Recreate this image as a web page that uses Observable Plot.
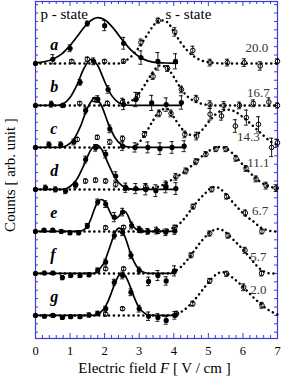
<!DOCTYPE html>
<html><head><meta charset="utf-8">
<script src="https://cdn.jsdelivr.net/npm/d3@7"></script>
<script src="https://cdn.jsdelivr.net/npm/@observablehq/plot@0.6"></script>
<style>html,body{margin:0;padding:0;background:#fff;}</style>
</head><body><div id="chart"></div>
<script>
// ---- data (F [V/cm], counts above trace baseline, error) ----
const traceLetters = ["a","b","c","d","e","f","g"];
const fieldLabels = ["20.0","16.7","14.3","11.1","6.7","5.7","2.0"];
const xTickLabels = [0,1,2,3,4,5,6,7];

const pA = [[0,0,0],[0.5,1.0,1.1],[1.0,3.6,0.8],[1.5,9.5,0.6],[2.0,9.0,1.2],[2.55,4.8,1.4],[3.05,1.4,1.6],[3.54,0.5,2.1],[4.05,0.5,1.8]];
const fitA = [[0,0.1],[0.25,0.4],[0.5,1.0],[0.75,2.2],[1.0,4.3],[1.25,6.9],[1.5,9.5],[1.8,10.9],[2.0,10.4],[2.25,8.4],[2.5,5.7],[2.75,3.3],[3.0,1.6],[3.25,0.6],[3.5,0.2],[3.75,0.1],[4.1,0]];
const sA = [[1.05,0.5,0.4],[1.5,1.0,0.5],[2.0,0.5,0.4],[2.55,0.5,0.5],[3.05,5.0,0.8],[3.55,10.2,0.6],[4.03,7.5,1.0],[4.55,3.1,1.0],[5.05,0.2,0.8],[5.55,0.2,0.8],[6.04,0.2,0.9],[6.5,-0.6,1.0],[7.0,0.5,0.6]];
const sFitA = [[0,0],[2.4,0],[2.6,0.6],[2.8,1.9],[3.0,3.9],[3.2,6.4],[3.4,8.9],[3.6,10.3],[3.8,9.9],[4.0,7.6],[4.2,5.0],[4.4,3.0],[4.6,1.6],[4.8,0.7],[5.0,0.3],[5.2,0.1],[5.4,0],[7.0,0]];

const pB = [[0,0,0],[0.46,0.3,0.7],[0.8,0,0.5],[1.29,5.5,0.7],[1.68,10.5,0.8],[2.1,3.8,0.9],[2.55,0.2,1.2],[2.9,1.4,1.7],[3.36,0.6,1.8],[3.78,0.2,1.6],[4.22,0.7,1.6]];
const fitB = [[0,0],[0.6,0],[0.8,0.4],[1.0,1.9],[1.2,4.9],[1.4,8.8],[1.62,11.0],[1.8,9.5],[2.0,5.7],[2.2,2.4],[2.4,0.7],[2.6,0.1],[2.8,0],[4.22,0]];
const sB = [[1.28,0.5,0.4],[1.71,1.4,0.5],[2.08,0.5,0.5],[2.52,0.8,0.9],[2.95,2.2,0.8],[3.4,6.9,0.7],[3.82,8.8,0.7],[4.22,3.8,0.8],[4.65,1.6,0.8],[5.05,0.2,0.9],[5.45,0,0.9],[5.9,0,0.8],[6.3,0.5,0.8],[6.75,0.8,1.0],[7.0,0,0.6]];
const sFitB = [[0,0],[2.4,0],[2.6,0.4],[2.8,1.2],[3.0,2.9],[3.2,5.4],[3.4,8.0],[3.6,9.5],[3.8,9.0],[4.0,6.8],[4.2,4.1],[4.4,2.1],[4.6,1.0],[4.8,0.4],[5.0,0.1],[5.2,0],[7.0,0]];

const pC = [[0,0,0],[0.39,0.7,0.6],[0.73,0.7,0.6],[1.11,1.3,0.7],[1.45,8.8,0.8],[1.8,11.5,0.8],[2.15,4.4,0.9],[2.52,0.3,1.0],[2.88,0,1.1],[3.25,0,1.3],[3.6,-0.3,1.4],[3.95,0,1.4],[4.3,0.3,1.3]];
const fitC = [[0,0],[0.7,0],[0.9,0.4],[1.1,1.8],[1.3,5.0],[1.5,9.3],[1.72,11.8],[1.9,10.1],[2.1,5.8],[2.3,2.3],[2.5,0.6],[2.7,0.1],[2.9,0],[4.3,0]];
const sC = [[1.21,1.9,0.5],[1.79,2.4,0.5],[2.15,1.3,0.6],[2.52,2.1,0.6],[3.15,3.1,0.7],[3.58,8.1,0.8],[3.92,8.1,0.8],[4.32,3.1,0.8],[4.66,2.7,0.9],[5.05,7.9,1.4],[5.38,7.5,1.0],[5.78,5.1,1.5],[6.1,7.1,1.8],[6.45,5.5,1.8],[6.83,0,2.2],[7.0,1.1,0.8]];
const sFitC = [[0,0],[2.8,0],[3.0,1.2],[3.2,3.6],[3.4,6.4],[3.6,8.8],[3.8,9.2],[4.0,7.2],[4.2,4.8],[4.4,3.2],[4.6,2.9],[4.8,4.0],[5.0,6.0],[5.2,7.8],[5.4,8.8],[5.6,9.0],[5.8,8.4],[6.0,7.2],[6.2,5.8],[6.4,4.3],[6.6,2.8],[6.8,1.4],[7.0,0.6]];

const pD = [[0,0,0],[0.29,0.4,0.6],[0.58,0,0.6],[0.87,-0.4,0.6],[1.16,1.0,0.7],[1.45,7.1,0.8],[1.74,9.9,0.8],[2.03,8.4,0.9],[2.32,3.2,1.0],[2.61,0.4,1.1],[2.9,0.2,1.2],[3.19,0,1.3],[3.48,-0.3,1.4],[3.77,0.6,1.4],[4.06,0.2,1.4]];
const fitD = [[0,0],[0.8,0],[1.0,0.7],[1.2,2.5],[1.4,5.8],[1.6,9.4],[1.76,10.6],[1.9,9.7],[2.1,6.2],[2.3,2.8],[2.5,0.9],[2.7,0.2],[2.9,0],[4.06,0]];
const sD = [[1.16,1.2,0.5],[1.45,2.0,0.5],[1.74,2.2,0.5],[2.03,2.0,0.5],[2.32,1.2,0.6],[2.61,0.4,0.6],[3.19,0.6,0.8],[3.77,0.8,0.8],[4.06,3.0,0.8],[4.35,4.4,0.7],[4.64,6.6,0.7],[4.93,8.4,0.6],[5.22,9.6,0.6],[5.51,9.6,0.6],[5.8,7.4,0.7],[6.09,5.0,0.7],[6.38,2.5,0.7],[6.67,0.9,0.8],[6.96,0.3,0.8]];
const sFitD = [[0,0],[2.8,0],[3.2,0.2],[3.6,0.8],[3.8,1.6],[4.0,2.6],[4.2,3.6],[4.4,4.8],[4.6,6.3],[4.8,7.8],[5.0,9.1],[5.2,9.9],[5.35,10.1],[5.5,9.8],[5.7,8.6],[5.9,6.8],[6.1,4.9],[6.3,3.2],[6.5,1.8],[6.7,0.9],[6.9,0.4],[7.0,0.3]];

const pE = [[0,0,0],[0.25,0.3,0.4],[0.5,0.3,0.4],[0.75,0,0.4],[1.0,-0.3,0.5],[1.25,-0.3,0.5],[1.5,1.3,0.6],[1.8,7.0,0.7],[2.03,6.5,0.8],[2.28,3.4,1.1],[2.52,4.6,0.9],[2.78,1.4,0.8],[3.0,0.5,0.7],[3.25,0,0.7],[3.5,0.2,0.8],[3.77,-0.2,0.8],[4.03,0.1,0.8]];
const fitE = [[0,0],[1.25,0],[1.4,0.4],[1.5,1.2],[1.6,2.9],[1.7,5.2],[1.8,7.0],[1.9,7.6],[2.0,7.1],[2.1,5.6],[2.2,3.9],[2.3,3.0],[2.4,3.5],[2.5,4.5],[2.58,4.8],[2.66,4.0],[2.75,2.3],[2.85,1.0],[3.0,0.2],[3.2,0],[4.05,0]];
const sE = [[2.03,0.9,0.4],[2.55,1.0,0.4],[3.05,0.2,0.5],[3.55,0,0.5],[4.03,0.9,0.6],[4.56,5.9,0.6],[5.1,10.0,0.6],[5.53,8.3,0.6],[6.07,4.4,0.7],[6.55,0,0.6]];
const sFitE = [[0,0],[3.4,0],[3.7,0.2],[3.9,0.6],[4.1,1.4],[4.3,3.0],[4.5,5.2],[4.7,7.3],[4.9,9.0],[5.05,10.2],[5.2,10.6],[5.35,10.1],[5.5,8.9],[5.7,7.0],[5.9,5.2],[6.1,3.6],[6.3,2.4],[6.5,1.0],[6.7,0.3],[6.9,0],[7.0,0]];

const pF = [[0,0,0],[0.26,0.1,0.4],[0.51,0.1,0.4],[0.78,-1.0,0.5],[1.02,-0.5,0.5],[1.29,-0.5,0.5],[1.55,-0.3,0.5],[1.8,0.7,0.6],[2.03,2.7,0.7],[2.28,9.0,0.8],[2.52,9.8,0.8],[2.76,4.3,0.8],[3.0,0.7,0.8],[3.27,-1.9,1.0],[3.54,-0.5,1.2],[3.78,-1.8,1.0],[4.02,0.6,1.2]];
const fitF = [[0,0],[1.7,0],[1.8,0.6],[1.9,1.5],[2.0,2.9],[2.1,5.1],[2.2,7.5],[2.3,9.7],[2.42,10.8],[2.5,10.3],[2.6,8.5],[2.7,6.0],[2.8,3.7],[2.9,2.0],[3.0,0.9],[3.1,0.4],[3.2,0.1],[3.3,0],[4.05,0]];
const sF = [[2.03,1.1,0.4],[2.55,1.1,0.4],[4.5,4.3,0.6],[5.04,9.5,0.6],[5.57,9.0,0.6],[6.06,5.5,0.7],[6.54,0,0.6]];
const sFitF = [[0,0],[3.8,0],[4.0,0.4],[4.2,1.5],[4.4,3.3],[4.6,5.5],[4.8,7.7],[5.0,9.4],[5.15,10.3],[5.3,10.6],[5.45,10.1],[5.6,9.0],[5.8,7.4],[6.0,5.7],[6.2,3.8],[6.4,1.8],[6.6,0.5],[6.8,0],[7.0,0]];

const pG = [[0,0,0],[0.26,-0.2,0.4],[0.51,0,0.4],[0.78,-0.5,0.4],[1.02,-0.3,0.4],[1.29,-0.3,0.4],[1.55,0.1,0.5],[1.8,0.5,0.5],[2.03,1.6,0.6],[2.28,7.9,0.7],[2.52,9.5,0.8],[2.76,5.5,0.8],[3.0,1.6,0.8],[3.27,-0.2,1.0],[3.54,-0.5,0.9],[3.78,-1.2,0.9],[4.03,0,0.9]];
const fitG = [[0,0],[1.8,0],[1.9,0.9],[2.0,1.8],[2.1,3.4],[2.2,5.5],[2.3,7.7],[2.4,9.4],[2.5,10.1],[2.6,9.4],[2.7,7.7],[2.8,5.5],[2.9,3.4],[3.0,1.8],[3.1,0.9],[3.2,0.3],[3.3,0.1],[3.4,0],[4.05,0]];
const sG = [[2.03,0.3,0.4],[2.52,1.6,0.4],[4.08,0.4,0.6],[4.55,2.8,0.6],[5.04,8.2,0.6],[5.53,9.9,0.6],[6.02,6.7,0.8],[6.55,2.4,0.7]];
const sFitG = [[0,0],[3.8,0],[4.1,0.4],[4.3,1.3],[4.5,2.8],[4.7,4.7],[4.9,6.8],[5.1,8.8],[5.25,9.9],[5.4,10.3],[5.55,9.9],[5.7,9.0],[5.9,7.6],[6.1,6.0],[6.3,4.3],[6.5,2.8],[6.7,1.5],[6.85,0.8],[7.0,0.2]];

// ---- layout ----
const W = 284, H = 382, mL = 35, mR = 7, mT = 1, mB = 44;
const traceStep = 10;
const yMin = -5.5, yMax = 74.75;
const ux = 7 / (W - mL - mR);               // data units per px (x)
const uy = (yMax - yMin) / (H - mT - mB);   // data units per px (y)
const off = i => (traceLetters.length - 1 - i) * traceStep;
const frameColor = "#3b3bd6";

const pSets = [pA,pB,pC,pD,pE,pF,pG];
const fitSets = [fitA,fitB,fitC,fitD,fitE,fitF,fitG];
const sSets = [sA,sB,sC,sD,sE,sF,sG];
const sFitSets = [sFitA,sFitB,sFitC,sFitD,sFitE,sFitF,sFitG];

const toPts = sets => sets.flatMap((arr, i) => arr.map(([F, v, e]) => ({F, y: v + off(i), e: e || 0, t: i})));
const pRows = toPts(pSets), sRows = toPts(sSets);
const fitRows = toPts(fitSets), sFitRows = toPts(sFitSets);
const errRows = [...pRows, ...sRows].filter(d => d.e > 0);
const capW = 2 * ux;

const xTickPos = d3.range(0, 36).map(i => ({v: i / 5, major: i % 5 === 0}));
const yTickPos = d3.range(-4, 75, 2);

// annotation anchors for right-hand field labels (F, counts)
const fieldLabelAnchors = [[6.4,63.6],[6.45,53.1],[6.16,42.6],[6.45,36.4],[6.5,25.0],[6.45,14.0],[6.45,6.2]];

const xTitle = "Electric field F [ V / cm ]";

const chart = Plot.plot({
  width: W, height: H,
  marginLeft: mL, marginRight: mR, marginTop: mT, marginBottom: mB,
  x: {domain: [0, 7], axis: null},
  y: {domain: [yMin, yMax], axis: null},
  style: {fontFamily: "'Liberation Serif', 'Times New Roman', serif", fontSize: "12px", background: "white", color: "black"},
  marks: [
    // inward ticks
    Plot.ruleX(xTickPos, {x: "v", y1: yMin, y2: d => yMin + (d.major ? 5 : 3) * uy, stroke: frameColor, strokeWidth: 1}),
    Plot.ruleX(xTickPos, {x: "v", y1: yMax, y2: d => yMax - (d.major ? 5 : 3) * uy, stroke: frameColor, strokeWidth: 1}),
    Plot.ruleY(yTickPos, {y: d => d, x1: 0, x2: 3 * ux, stroke: frameColor, strokeWidth: 1}),
    Plot.ruleY(yTickPos, {y: d => d, x1: 7 - 3 * ux, x2: 7, stroke: frameColor, strokeWidth: 1}),
    Plot.frame({stroke: frameColor, strokeWidth: 1.2}),
    // s-state fits (dotted)
    Plot.line(sFitRows, {x: "F", y: "y", z: "t", curve: "monotone-x", stroke: "black", strokeWidth: 2.5, strokeDasharray: "0.1,4.8", strokeLinecap: "round"}),
    // p-state fits (solid)
    Plot.line(fitRows, {x: "F", y: "y", z: "t", curve: "monotone-x", stroke: "black", strokeWidth: 1.7}),
    // error bars
    Plot.ruleX(errRows, {x: "F", y1: d => d.y - d.e, y2: d => d.y + d.e, stroke: "black", strokeWidth: 0.9}),
    Plot.ruleY(errRows, {y: d => d.y - d.e, x1: d => d.F - capW, x2: d => d.F + capW, stroke: "black", strokeWidth: 0.9}),
    Plot.ruleY(errRows, {y: d => d.y + d.e, x1: d => d.F - capW, x2: d => d.F + capW, stroke: "black", strokeWidth: 0.9}),
    // points
    Plot.dot(sRows, {x: "F", y: "y", r: 2.3, stroke: "black", strokeWidth: 1, fill: "none"}),
    Plot.dot(pRows, {x: "F", y: "y", r: 2.6, fill: "black", stroke: "none"}),
    // letters
    Plot.text(traceLetters, {x: 0.43, y: (d, i) => off(i) + 4.4, text: d => d, textAnchor: "start", lineAnchor: "middle", fontSize: 16, fontStyle: "italic", fontWeight: "bold", fill: "black"}),
    // field labels
    Plot.text(fieldLabels, {x: (d, i) => fieldLabelAnchors[i][0], y: (d, i) => fieldLabelAnchors[i][1], text: d => d, textAnchor: "middle", lineAnchor: "middle", fontSize: 13, fill: "#333"}),
    // state titles
    Plot.text(["p - state"], {frameAnchor: "top-left", dx: 5, dy: 13, textAnchor: "start", lineAnchor: "middle", fontSize: 15, fill: "black"}),
    Plot.text(["s - state"], {frameAnchor: "top-left", dx: 130, dy: 13, textAnchor: "start", lineAnchor: "middle", fontSize: 15, fill: "black"}),
    // x tick labels
    Plot.text(xTickLabels, {x: d => d, y: yMin, dy: 12, text: d => String(d), textAnchor: "middle", lineAnchor: "middle", fontSize: 12.5, fill: "black"}),
    // axis titles
    Plot.text([xTitle], {frameAnchor: "bottom", dx: -2, dy: 30, textAnchor: "middle", lineAnchor: "middle", fontSize: 15, fill: "black"}),
    Plot.text(["Counts [ arb. unit ]"], {frameAnchor: "left", dx: -25, dy: 5, rotate: -90, textAnchor: "middle", lineAnchor: "middle", fontSize: 15, fill: "black"})
  ]
});

// italic F in the x title
chart.querySelectorAll("text").forEach(t => {
  if (t.textContent === xTitle) {
    t.textContent = "";
    const NS = "http://www.w3.org/2000/svg";
    [["Electric field ", null], ["F", "italic"], [" [ V / cm ]", null]].forEach(([s, st]) => {
      const ts = document.createElementNS(NS, "tspan");
      ts.textContent = s;
      if (st) ts.setAttribute("font-style", st);
      t.appendChild(ts);
    });
  }
});

document.getElementById("chart").appendChild(chart);
</script>
</body></html>
